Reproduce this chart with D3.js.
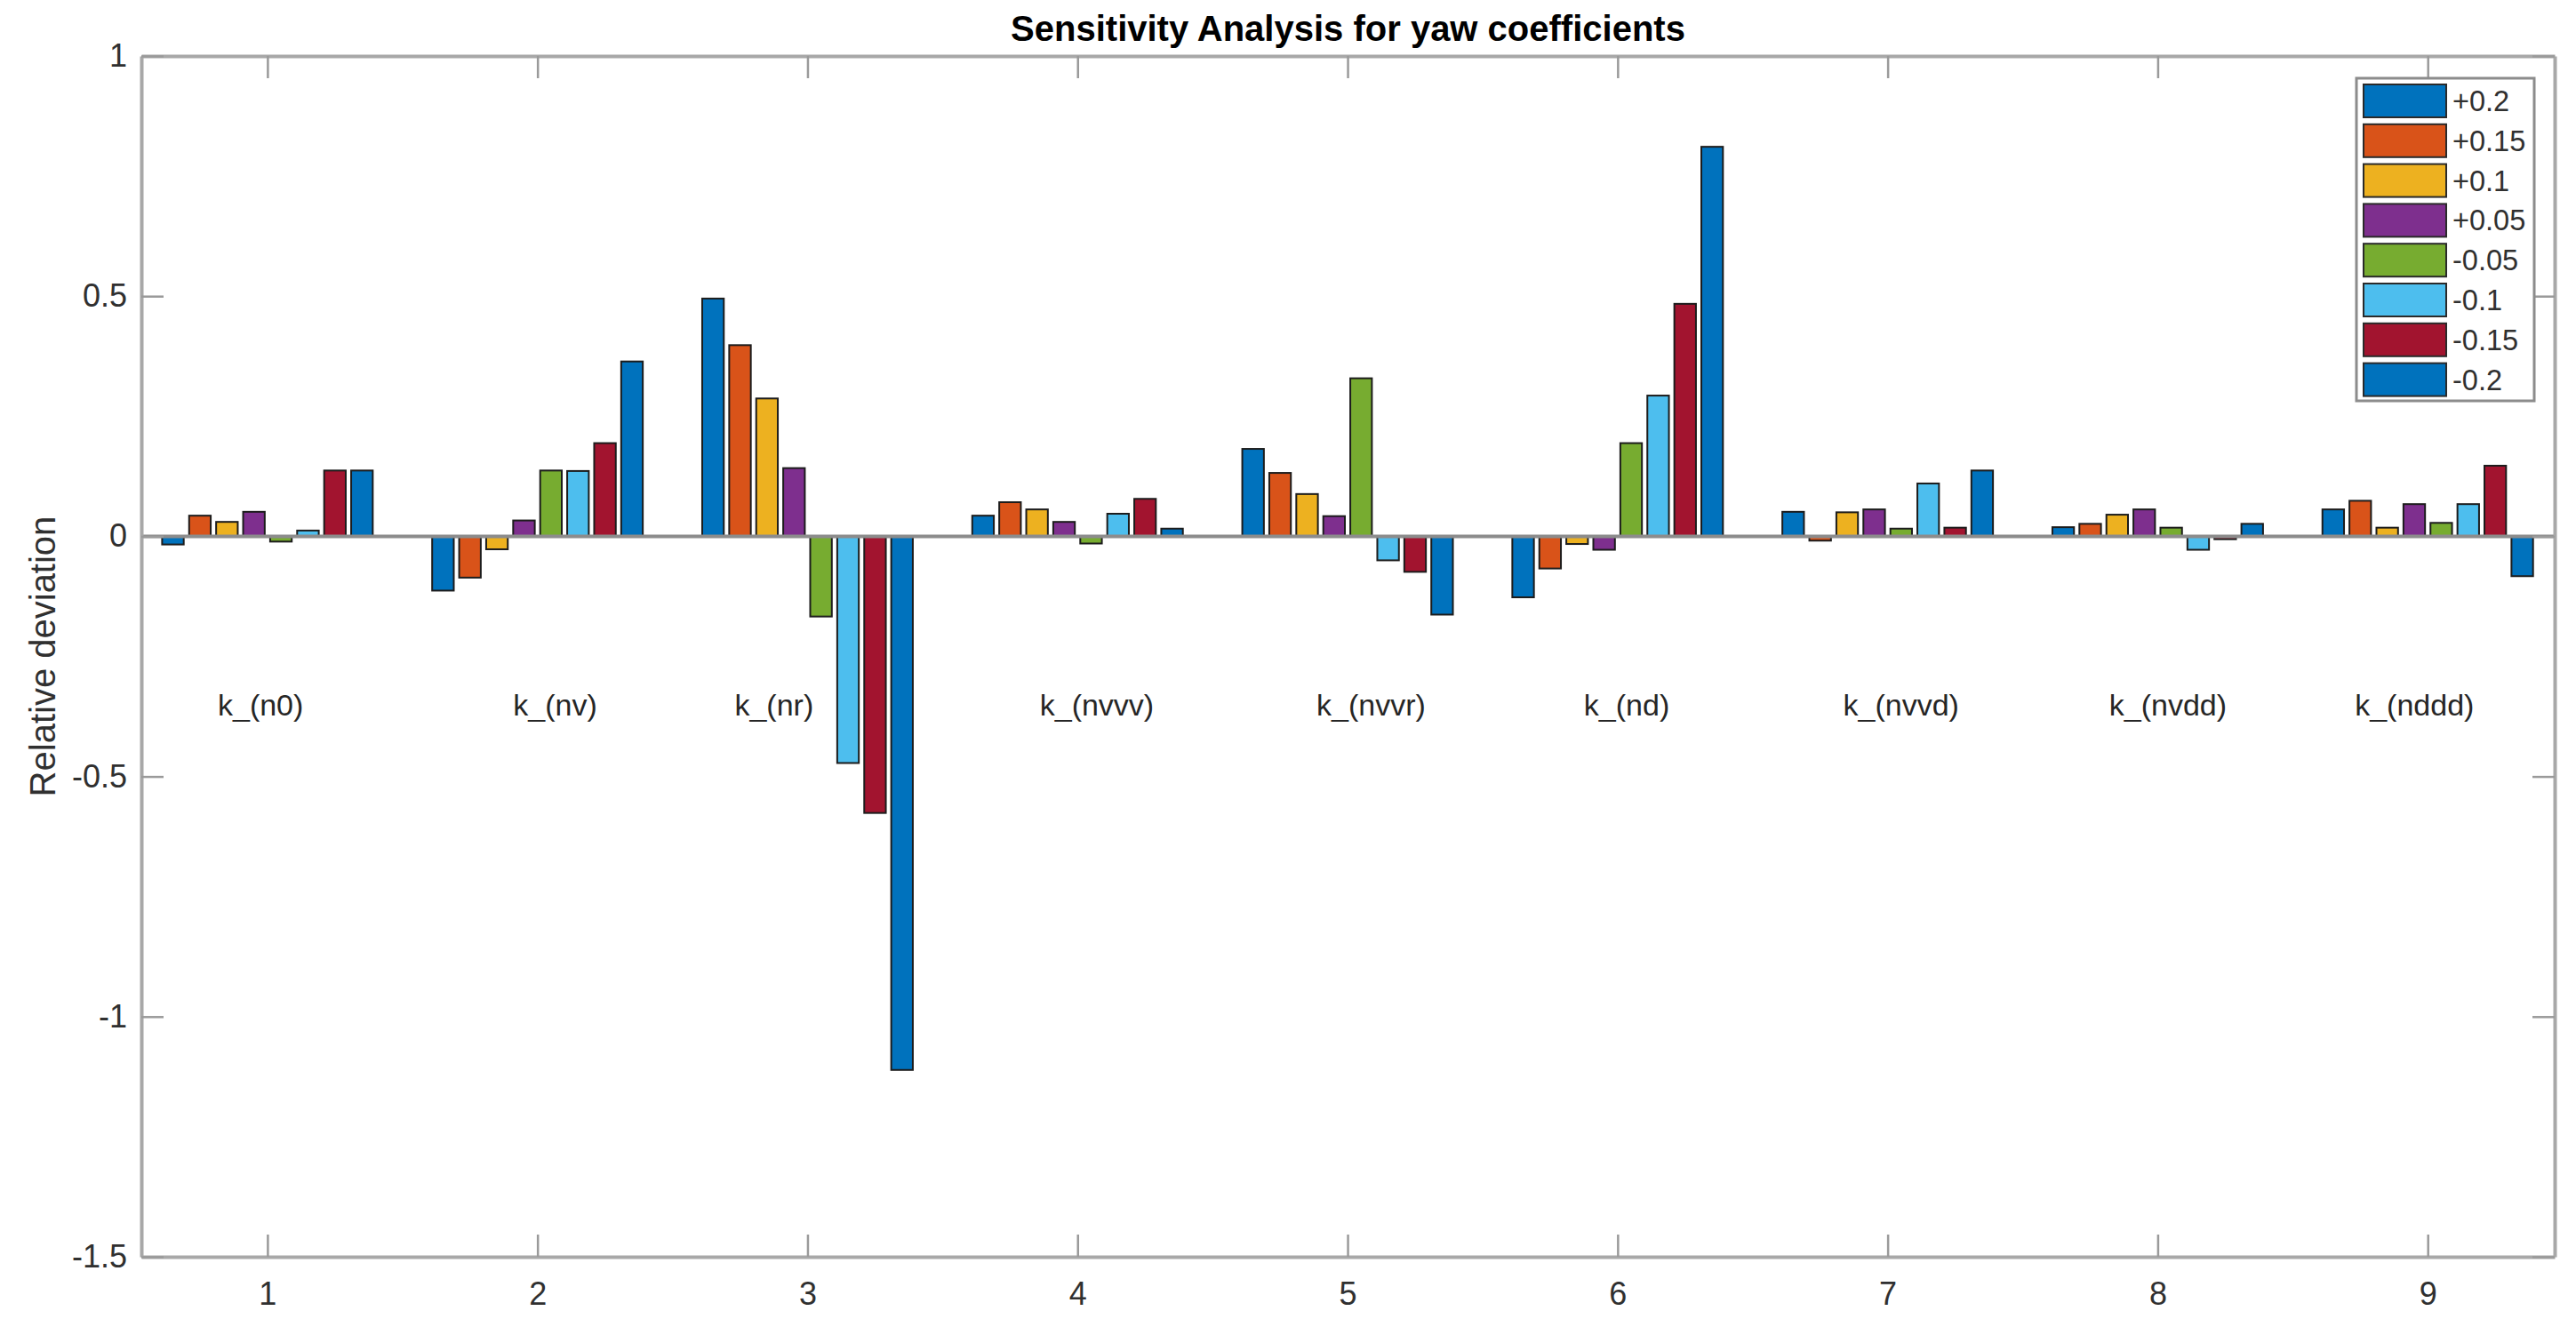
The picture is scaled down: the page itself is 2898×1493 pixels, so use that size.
<!DOCTYPE html>
<html>
<head>
<meta charset="utf-8">
<script src="https://cdn.jsdelivr.net/npm/d3@7"></script>
<style>
  body { margin: 0; background: #fff; }
  svg { font-family: "Liberation Sans", Arial, Helvetica, sans-serif; }
</style>
</head>
<body>
<div id="chart"></div>
<script>
// Data
const groups = [1, 2, 3, 4, 5, 6, 7, 8, 9];
const coefNames = ["k_(n0)", "k_(nv)", "k_(nr)", "k_(nvvv)", "k_(nvvr)", "k_(nd)", "k_(nvvd)", "k_(nvdd)", "k_(nddd)"];
const coefLabelX = [0.816, 1.91, 2.73, 3.86, 4.885, 5.875, 6.835, 7.82, 8.73];
const coefLabelY = -0.35;
const seriesNames = ["+0.2", "+0.15", "+0.1", "+0.05", "-0.05", "-0.1", "-0.15", "-0.2"];
const plus020  = [-0.017, -0.113,  0.495,  0.043,  0.182, -0.127,  0.051,  0.019,  0.056];
const plus015  = [ 0.043, -0.086,  0.398,  0.071,  0.132, -0.067, -0.009,  0.026,  0.074];
const plus010  = [ 0.030, -0.027,  0.287,  0.056,  0.088, -0.016,  0.050,  0.045,  0.018];
const plus005  = [ 0.051,  0.033,  0.142,  0.030,  0.042, -0.028,  0.056,  0.056,  0.067];
const minus005 = [-0.011,  0.137, -0.167, -0.015,  0.329,  0.194,  0.016,  0.018,  0.028];
const minus010 = [ 0.012,  0.136, -0.472,  0.047, -0.050,  0.293,  0.110, -0.028,  0.067];
const minus015 = [ 0.137,  0.194, -0.576,  0.078, -0.074,  0.484,  0.018, -0.006,  0.147];
const minus020 = [ 0.137,  0.364, -1.111,  0.016, -0.163,  0.811,  0.137,  0.026, -0.083];
const yTicks = [-1.5, -1, -0.5, 0, 0.5, 1];

const seriesValues = [plus020, plus015, plus010, plus005, minus005, minus010, minus015, minus020];
const colors = ["#0072BD", "#D95319", "#EDB120", "#7E2F8E", "#77AC30", "#4DBEEE", "#A2142F", "#0072BD"];

const width = 2898;
const height = 1493;
const plot = { left: 159, right: 2874, top: 63, bottom: 1414 };

const svg = d3.select("#chart").append("svg")
    .attr("width", width)
    .attr("height", height);

svg.append("rect").attr("width", width).attr("height", height).attr("fill", "#fff");

const x = d3.scaleLinear().domain([0.533, 9.47]).range([plot.left, plot.right]);
const y = d3.scaleLinear().domain([-1.5, 1]).range([plot.bottom, plot.top]);

// grouped bars: 8 per group, 0.1 apart, 0.08 wide
const slot = 0.1, barW = 0.08;
const bars = [];
seriesValues.forEach((vals, i) => {
  vals.forEach((v, j) => {
    bars.push({ series: i, group: groups[j], value: v });
  });
});

svg.append("g").selectAll("rect")
  .data(bars)
  .enter().append("rect")
    .attr("x", d => x(d.group + (d.series - 3.5) * slot - barW / 2))
    .attr("width", x(barW) - x(0))
    .attr("y", d => y(Math.max(d.value, 0)))
    .attr("height", d => Math.abs(y(d.value) - y(0)))
    .attr("fill", d => colors[d.series])
    .attr("stroke", "#1c1c1c")
    .attr("stroke-width", 2);

// baseline
svg.append("line")
    .attr("x1", plot.left).attr("x2", plot.right)
    .attr("y1", y(0)).attr("y2", y(0))
    .attr("stroke", "#8c8c8c")
    .attr("stroke-width", 4);

// axes (inward ticks, box on)
const tickLen = 25;
const axisColor = "#a8a8a8";

function styleAxis(g) {
  g.select(".domain").attr("stroke", axisColor).attr("stroke-width", 4);
  g.selectAll(".tick line").attr("stroke", "#9a9a9a").attr("stroke-width", 2.5);
  g.selectAll(".tick text").attr("fill", "#303030").attr("font-size", 36);
}

svg.append("g")
    .attr("transform", `translate(0,${plot.bottom})`)
    .call(d3.axisBottom(x).tickValues(groups).tickFormat(d3.format("d"))
      .tickSize(-tickLen).tickSizeOuter(0).tickPadding(28))
    .call(styleAxis);

svg.append("g")
    .attr("transform", `translate(0,${plot.top})`)
    .call(d3.axisTop(x).tickValues(groups).tickFormat("")
      .tickSize(-tickLen).tickSizeOuter(0))
    .call(styleAxis);

svg.append("g")
    .attr("transform", `translate(${plot.left},0)`)
    .call(d3.axisLeft(y).tickValues(yTicks).tickFormat(d => String(d))
      .tickSize(-tickLen).tickSizeOuter(0).tickPadding(16))
    .call(styleAxis);

svg.append("g")
    .attr("transform", `translate(${plot.right},0)`)
    .call(d3.axisRight(y).tickValues(yTicks).tickFormat("")
      .tickSize(-tickLen).tickSizeOuter(0))
    .call(styleAxis);

// coefficient labels inside the plot
svg.append("g").selectAll("text")
  .data(coefNames)
  .enter().append("text")
    .attr("x", (d, i) => x(coefLabelX[i]))
    .attr("y", y(coefLabelY))
    .attr("dominant-baseline", "central")
    .attr("font-size", 34)
    .attr("fill", "#262626")
    .text(d => d);

// title
svg.append("text")
    .attr("x", (plot.left + plot.right) / 2)
    .attr("y", 46)
    .attr("text-anchor", "middle")
    .attr("font-size", 40)
    .attr("font-weight", "bold")
    .attr("fill", "#000")
    .text("Sensitivity Analysis for yaw coefficients");

// y label
svg.append("text")
    .attr("transform", `translate(62,${(plot.top + plot.bottom) / 2}) rotate(-90)`)
    .attr("text-anchor", "middle")
    .attr("font-size", 40)
    .attr("fill", "#303030")
    .text("Relative deviation");

// legend
const legend = svg.append("g").attr("transform", "translate(2651,88)");
legend.append("rect")
    .attr("width", 200).attr("height", 363)
    .attr("fill", "#fff")
    .attr("stroke", "#8c8c8c")
    .attr("stroke-width", 3);

const items = legend.selectAll(".legend-item")
  .data(seriesNames)
  .enter().append("g")
    .attr("class", "legend-item")
    .attr("transform", (d, i) => `translate(8,${7 + i * 44.8})`);

items.append("rect")
    .attr("width", 93).attr("height", 37)
    .attr("fill", (d, i) => colors[i])
    .attr("stroke", "#2a2a2a")
    .attr("stroke-width", 2);

items.append("text")
    .attr("x", 100)
    .attr("y", 19)
    .attr("dominant-baseline", "central")
    .attr("font-size", 32.5)
    .attr("fill", "#303030")
    .text(d => d);
</script>
</body>
</html>
